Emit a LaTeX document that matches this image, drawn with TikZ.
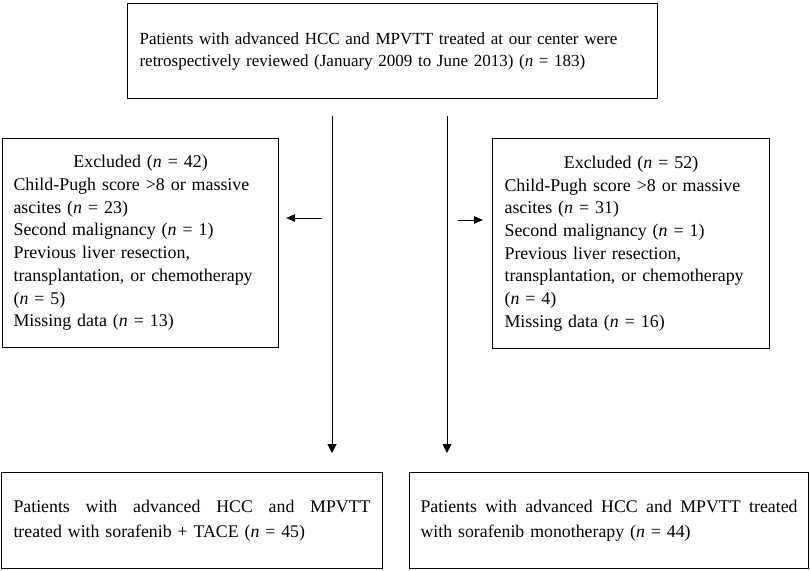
\documentclass[tikz,border=0pt]{standalone}
\usepackage{fontspec}
\setmainfont{Liberation Serif}
\usetikzlibrary{arrows.meta}
\newcommand{\nn}{\textit{n}}
\begin{document}
\begin{tikzpicture}[x=1pt,y=-1pt,
  box/.style={draw, line width=1.1pt, anchor=north west, inner ysep=0pt, align=left,
    font=\fontsize{17.9}{22.7}\selectfont},
  topbox/.style={box, font=\fontsize{17}{22}\selectfont},
  lowbox/.style={box, font=\fontsize{17.8}{25}\selectfont},
  arr/.style={line width=1pt, -{Triangle[length=9pt,width=7.5pt]}},
  varr/.style={line width=1pt, -{Triangle[length=9pt,width=9pt]}}]
\useasboundingbox (0,0) rectangle (810,570);

\node[topbox, minimum width=530pt, minimum height=95pt, text width=506pt, inner xsep=12pt] (top) at (127,3)
  {Patients with advanced HCC and MPVTT treated at our center were\\
   retrospectively reviewed (January 2009 to June 2013) (\nn{} = 183)};

\node[box, minimum width=276pt, minimum height=209pt, text width=254pt, inner xsep=11pt] (ex1) at (2,138)
  {\makebox[254pt]{Excluded (\nn{} = 42)}\\
   Child-Pugh score >8 or massive\\
   ascites (\nn{} = 23)\\
   Second malignancy (\nn{} = 1)\\
   Previous liver resection,\\
   transplantation, or chemotherapy\\
   (\nn{} = 5)\\
   Missing data (\nn{} = 13)};

\node[box, minimum width=277pt, minimum height=210pt, text width=253pt, inner xsep=12pt] (ex2) at (492,138)
  {\makebox[253pt]{Excluded (\nn{} = 52)}\\
   Child-Pugh score >8 or massive\\
   ascites (\nn{} = 31)\\
   Second malignancy (\nn{} = 1)\\
   Previous liver resection,\\
   transplantation, or chemotherapy\\
   (\nn{} = 4)\\
   Missing data (\nn{} = 16)};

\node[lowbox, minimum width=381pt, minimum height=96pt, text width=357pt, inner xsep=12pt] (bl) at (1,472)
  {\hbox to 357pt{Patients\hfill with\hfill advanced\hfill HCC\hfill and\hfill MPVTT}\\
   treated with sorafenib + TACE (\nn{} = 45)};

\node[lowbox, minimum width=399pt, minimum height=96pt, text width=377pt, inner xsep=11pt] (br) at (409,472)
  {\hbox to 377pt{Patients\hfill with\hfill advanced\hfill HCC\hfill and\hfill MPVTT\hfill treated}\\
   with sorafenib monotherapy (\nn{} = 44)};

\coordinate (a1x) at (332,0);
\coordinate (a2x) at (447,0);
\coordinate (lh) at (322,218);
\coordinate (rh) at (458,220);

\draw[varr, shorten <=17pt, shorten >=19pt] (top.south -| a1x) -- (bl.north -| a1x);
\draw[varr, shorten <=17pt, shorten >=19pt] (top.south -| a2x) -- (br.north -| a2x);
\draw[arr, shorten >=7pt] (lh) -- (ex1.east |- lh);
\draw[arr, shorten >=9pt] (rh) -- (ex2.west |- rh);
\end{tikzpicture}
\end{document}
